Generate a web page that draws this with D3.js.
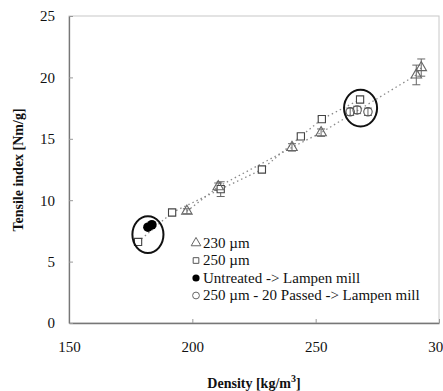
<!DOCTYPE html>
<html>
<head>
<meta charset="utf-8">
<title>Tensile index vs density</title>
<script src="https://cdn.jsdelivr.net/npm/d3@7"></script>
<style>
body { margin:0; background:#fff; }
text { font-family:"Liberation Serif","Times New Roman",serif; fill:#111; }
</style>
</head>
<body>
<script>
// data
var tri230X = [197.8, 210.5, 240.4, 252.2, 290.8, 292.8];
var tri230Y = [9.1, 11.1, 14.3, 15.5, 20.2, 20.8];
var tri230Err = [0.2, 0.3, 0.3, 0.3, 0.8, 0.7];

var sq250X = [178.0, 191.8, 211.5, 228.2, 244.0, 252.5, 268.0];
var sq250Y = [6.6, 9.0, 10.9, 12.5, 15.2, 16.6, 18.2];
var sq250Err = [0.1, 0.2, 0.6, 0.2, 0.2, 0.2, 0.2];

var untreatedX = [182.0, 183.6];
var untreatedY = [7.8, 8.0];

var passedX = [264.0, 266.8, 271.2];
var passedY = [17.2, 17.35, 17.2];
var passedErr = [0.3, 0.3, 0.3];

// circled groups (centre x, centre y, half width, half height in data units)
var rings = [[182.0, 7.2, 6.3, 1.5], [268.2, 17.5, 6.7, 1.5]];

var xTicks = [150, 200, 250, 300];
var yTicks = [0, 5, 10, 15, 20, 25];
var legendLabels = ["230 \u00b5m", "250 \u00b5m", "Untreated -> Lampen mill", "250 \u00b5m - 20 Passed -> Lampen mill"];

var width = 443, height = 391;
var plotL = 69, plotR = 439, plotT = 16, plotB = 323;

var svg = d3.select("body").append("svg")
    .attr("width", width)
    .attr("height", height);

var x = d3.scaleLinear().domain([150, 300]).range([plotL, plotR]);
var y = d3.scaleLinear().domain([0, 25]).range([plotB, plotT]);

// frame
svg.append("rect")
    .attr("x", plotL).attr("y", plotT)
    .attr("width", plotR - plotL).attr("height", plotB - plotT)
    .attr("fill", "none").attr("stroke", "#c8c8c8").attr("stroke-width", 1);

var xAxis = svg.append("g")
    .attr("transform", "translate(0," + plotB + ")")
    .call(d3.axisBottom(x).tickValues(xTicks).tickSizeInner(-4).tickSizeOuter(0).tickPadding(18));
var yAxis = svg.append("g")
    .attr("transform", "translate(" + plotL + ",0)")
    .call(d3.axisLeft(y).tickValues(yTicks).tickSizeInner(-4).tickSizeOuter(0).tickPadding(14));

[xAxis, yAxis].forEach(function(g){
  g.select(".domain").attr("stroke", "#777").attr("stroke-width", 1.3);
  g.selectAll(".tick line").attr("stroke", "#999");
  g.selectAll(".tick text")
    .style("font-family", "Liberation Serif, serif")
    .style("font-size", "15px")
    .attr("fill", "#111");
});

// axis titles
var xt = svg.append("text")
    .attr("x", 254).attr("y", 388)
    .attr("text-anchor", "middle")
    .style("font-size", "14px").style("font-weight", "bold");
xt.append("tspan").text("Density [kg/m");
xt.append("tspan").attr("dy", -6).style("font-size", "10px").text("3");
xt.append("tspan").attr("dy", 6).text("]");

svg.append("text")
    .attr("transform", "translate(23,170) rotate(-90)")
    .attr("text-anchor", "middle")
    .style("font-size", "14px").style("font-weight", "bold")
    .text("Tensile index [Nm/g]");

function zip(xs, ys, es) {
  return xs.map(function(v, i){ return {x: v, y: ys[i], e: es ? es[i] : 0}; });
}
var triData = zip(tri230X, tri230Y, tri230Err);
var sqData = zip(sq250X, sq250Y, sq250Err);
var untData = zip(untreatedX, untreatedY);
var pasData = zip(passedX, passedY, passedErr);

// dotted trend lines
var line = d3.line().x(function(d){ return x(d.x); }).y(function(d){ return y(d.y); });
[triData, sqData].forEach(function(s){
  svg.append("path")
    .attr("d", line(s))
    .attr("fill", "none")
    .attr("stroke", "#8a8a8a")
    .attr("stroke-width", 1.3)
    .attr("stroke-dasharray", "1.5,3");
});

// error bars
function errBars(data) {
  var g = svg.append("g").attr("stroke", "#666").attr("stroke-width", 1);
  data.forEach(function(d){
    if (!d.e) return;
    var cx = x(d.x), y1 = y(d.y - d.e), y2 = y(d.y + d.e);
    g.append("line").attr("x1", cx).attr("x2", cx).attr("y1", y1).attr("y2", y2);
    g.append("line").attr("x1", cx - 4).attr("x2", cx + 4).attr("y1", y1).attr("y2", y1);
    g.append("line").attr("x1", cx - 4).attr("x2", cx + 4).attr("y1", y2).attr("y2", y2);
  });
}
errBars(triData);
errBars(sqData);
errBars(pasData);

var triSym = d3.symbol().type(d3.symbolTriangle).size(48);
var sqSym = d3.symbol().type(d3.symbolSquare).size(52);

function markers(data, path, fill, stroke) {
  svg.append("g").selectAll("path")
    .data(data).enter().append("path")
    .attr("d", path)
    .attr("transform", function(d){ return "translate(" + x(d.x) + "," + y(d.y) + ")"; })
    .attr("fill", fill)
    .attr("stroke", stroke)
    .attr("stroke-width", 1.1);
}
markers(sqData, sqSym(), "#fff", "#444");
markers(triData, triSym(), "none", "#666");

svg.append("g").selectAll("circle")
  .data(pasData).enter().append("circle")
  .attr("cx", function(d){ return x(d.x); })
  .attr("cy", function(d){ return y(d.y); })
  .attr("r", 4.2)
  .attr("fill", "none").attr("stroke", "#555").attr("stroke-width", 1.1);

svg.append("g").selectAll("circle")
  .data(untData).enter().append("circle")
  .attr("cx", function(d){ return x(d.x); })
  .attr("cy", function(d){ return y(d.y); })
  .attr("r", 4.8)
  .attr("fill", "#000");

// rings round the milled samples
svg.append("g").selectAll("ellipse")
  .data(rings).enter().append("ellipse")
  .attr("cx", function(d){ return x(d[0]); })
  .attr("cy", function(d){ return y(d[1]); })
  .attr("rx", function(d){ return x(d[0] + d[2]) - x(d[0]); })
  .attr("ry", function(d){ return y(d[1]) - y(d[1] + d[3]); })
  .attr("fill", "none").attr("stroke", "#111").attr("stroke-width", 2);

// legend
var leg = svg.append("g").attr("transform", "translate(196,242)");
var rowH = 17.5;
leg.append("path").attr("d", d3.symbol().type(d3.symbolTriangle).size(40)())
  .attr("transform", "translate(0,1)").attr("fill", "none").attr("stroke", "#666");
leg.append("path").attr("d", d3.symbol().type(d3.symbolSquare).size(32)())
  .attr("transform", "translate(0," + (rowH + 1) + ")").attr("fill", "none").attr("stroke", "#555");
leg.append("circle").attr("cx", 0).attr("cy", 2 * rowH + 1).attr("r", 3.6).attr("fill", "#000");
leg.append("circle").attr("cx", 0).attr("cy", 3 * rowH + 1).attr("r", 3.4)
  .attr("fill", "none").attr("stroke", "#666");
leg.selectAll("text").data(legendLabels).enter().append("text")
  .attr("x", 7)
  .attr("y", function(d, i){ return i * rowH + 5.5; })
  .style("font-size", "15px")
  .text(function(d){ return d; });
</script>
</body>
</html>
